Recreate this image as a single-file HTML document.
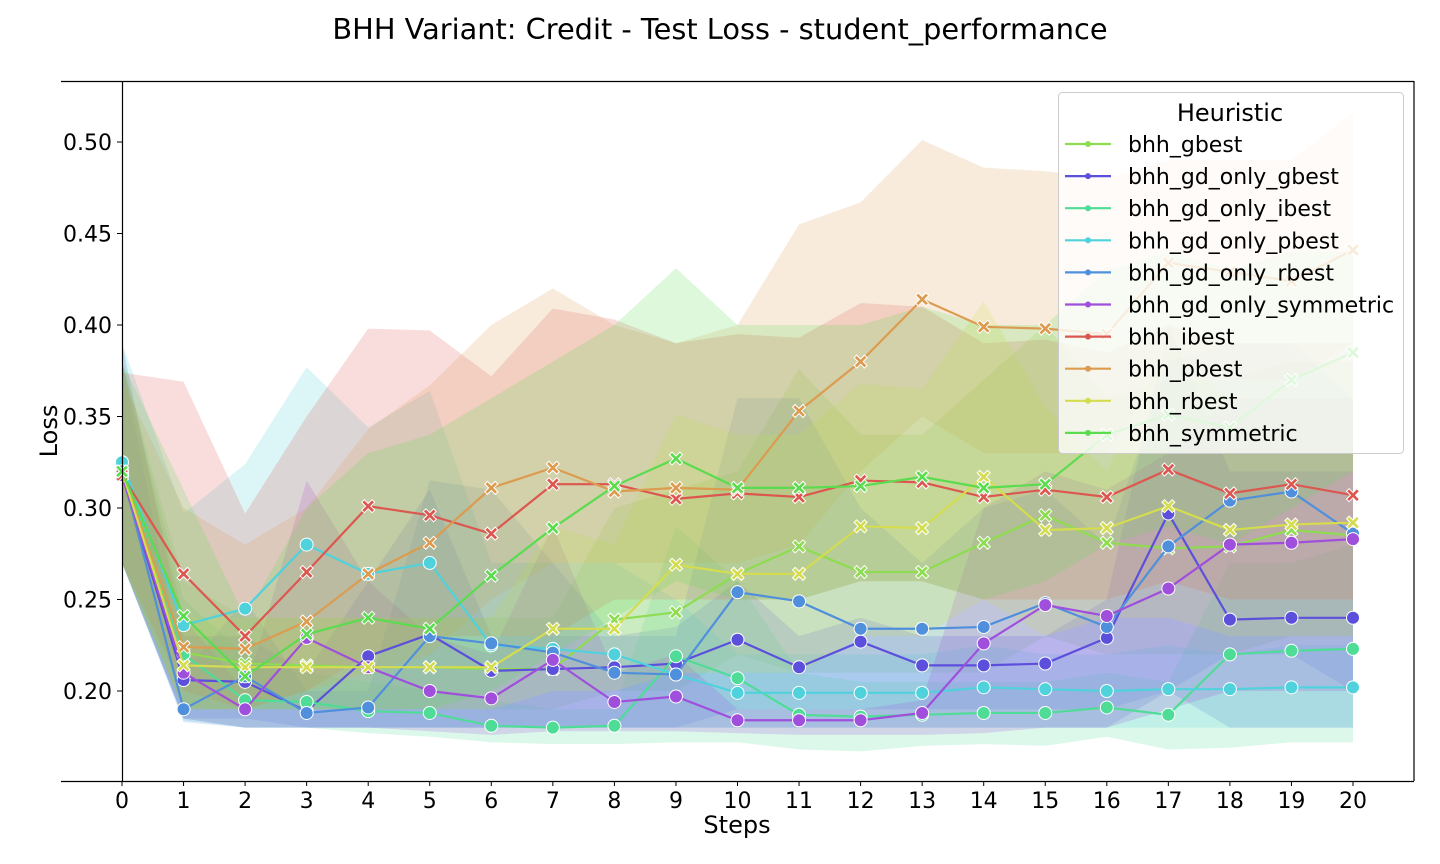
<!DOCTYPE html>
<html><head><meta charset="utf-8"><style>
html,body{margin:0;padding:0;background:#fff;}
svg{display:block;font-family:"DejaVu Sans","Liberation Sans",sans-serif;}
</style></head><body>
<svg id="chart" width="1440" height="864" viewBox="0 0 1440 864" xmlns="http://www.w3.org/2000/svg">
<text x="720" y="39" font-size="28.8" text-anchor="middle" fill="#000">BHH Variant: Credit - Test Loss - student_performance</text>
<g id="bands"></g>
<g id="lines"></g>
<g id="axes"></g>
<text x="737" y="833" font-size="24" text-anchor="middle">Steps</text>
<text transform="translate(57,431) rotate(-90)" font-size="24" text-anchor="middle">Loss</text>
<g id="legend"></g>
</svg>
<script>
const steps = [0,1,2,3,4,5,6,7,8,9,10,11,12,13,14,15,16,17,18,19,20];
const seriesNames = ["bhh_gbest","bhh_gd_only_gbest","bhh_gd_only_ibest","bhh_gd_only_pbest","bhh_gd_only_rbest","bhh_gd_only_symmetric","bhh_ibest","bhh_pbest","bhh_rbest","bhh_symmetric"];
const seriesColors = ["#8edc4f","#5b4fdc","#4fdc97","#4fd2dc","#4f8fdc","#9f4fdc","#dc574f","#dc9b4f","#d4dc4f","#5bdc4f"];
const yTicks = [0.20,0.25,0.30,0.35,0.40,0.45,0.50];

const meanGbest = [0.320,0.221,0.215,0.214,0.213,0.213,0.212,0.212,0.239,0.243,0.264,0.279,0.265,0.265,0.281,0.296,0.281,0.278,0.279,0.288,0.285];
const meanGdGbest = [0.318,0.206,0.205,0.189,0.219,0.231,0.211,0.212,0.213,0.215,0.228,0.213,0.227,0.214,0.214,0.215,0.229,0.297,0.239,0.240,0.240];
const meanGdIbest = [0.325,0.220,0.195,0.194,0.189,0.188,0.181,0.180,0.181,0.219,0.207,0.187,0.186,0.187,0.188,0.188,0.191,0.187,0.220,0.222,0.223];
const meanGdPbest = [0.325,0.236,0.245,0.280,0.264,0.270,0.225,0.223,0.220,0.209,0.199,0.199,0.199,0.199,0.202,0.201,0.200,0.201,0.201,0.202,0.202];
const meanGdRbest = [0.320,0.190,0.208,0.188,0.191,0.230,0.226,0.221,0.210,0.209,0.254,0.249,0.234,0.234,0.235,0.248,0.235,0.279,0.304,0.309,0.286];
const meanGdSym = [0.318,0.210,0.190,0.229,0.213,0.200,0.196,0.217,0.194,0.197,0.184,0.184,0.184,0.188,0.226,0.247,0.241,0.256,0.280,0.281,0.283];
const meanIbest = [0.318,0.264,0.230,0.265,0.301,0.296,0.286,0.313,0.313,0.305,0.308,0.306,0.315,0.314,0.306,0.310,0.306,0.321,0.308,0.313,0.307];
const meanPbest = [0.320,0.224,0.223,0.238,0.264,0.281,0.311,0.322,0.309,0.311,0.310,0.353,0.380,0.414,0.399,0.398,0.395,0.434,0.429,0.424,0.441];
const meanRbest = [0.320,0.214,0.213,0.213,0.213,0.213,0.213,0.234,0.234,0.269,0.264,0.264,0.290,0.289,0.317,0.288,0.289,0.301,0.288,0.291,0.292];
const meanSym = [0.320,0.241,0.208,0.231,0.240,0.234,0.263,0.289,0.312,0.327,0.311,0.311,0.312,0.317,0.311,0.313,0.340,0.351,0.344,0.370,0.385];

const upGbest = [0.38,0.26,0.24,0.24,0.24,0.24,0.24,0.24,0.30,0.31,0.32,0.376,0.34,0.34,0.37,0.40,0.36,0.37,0.37,0.38,0.38];
const loGbest = [0.27,0.19,0.19,0.19,0.19,0.19,0.19,0.19,0.20,0.20,0.22,0.21,0.21,0.21,0.21,0.23,0.22,0.22,0.22,0.23,0.23];
const upGdGbest = [0.39,0.23,0.23,0.21,0.26,0.31,0.23,0.23,0.23,0.235,0.26,0.23,0.24,0.23,0.23,0.23,0.25,0.40,0.32,0.32,0.32];
const loGdGbest = [0.27,0.185,0.185,0.18,0.18,0.18,0.18,0.18,0.18,0.18,0.18,0.18,0.18,0.18,0.18,0.18,0.18,0.20,0.18,0.18,0.18];
const upGdIbest = [0.38,0.25,0.22,0.21,0.205,0.20,0.195,0.19,0.19,0.29,0.26,0.21,0.205,0.205,0.205,0.205,0.21,0.205,0.27,0.27,0.28];
const loGdIbest = [0.27,0.185,0.18,0.18,0.177,0.175,0.172,0.171,0.171,0.172,0.172,0.168,0.167,0.17,0.171,0.17,0.175,0.168,0.169,0.172,0.172];
const upGdPbest = [0.39,0.297,0.324,0.377,0.344,0.364,0.27,0.27,0.27,0.25,0.22,0.22,0.22,0.22,0.225,0.22,0.22,0.225,0.22,0.225,0.225];
const loGdPbest = [0.27,0.184,0.18,0.18,0.18,0.18,0.18,0.18,0.18,0.18,0.18,0.18,0.18,0.18,0.18,0.18,0.18,0.18,0.18,0.18,0.18];
const upGdRbest = [0.38,0.21,0.25,0.20,0.20,0.315,0.31,0.27,0.23,0.23,0.36,0.36,0.30,0.27,0.30,0.31,0.28,0.38,0.39,0.39,0.36];
const loGdRbest = [0.27,0.183,0.18,0.18,0.18,0.18,0.18,0.18,0.18,0.18,0.19,0.19,0.19,0.19,0.19,0.19,0.19,0.20,0.22,0.22,0.20];
const upGdSym = [0.38,0.24,0.20,0.315,0.26,0.23,0.22,0.29,0.21,0.22,0.19,0.19,0.19,0.195,0.30,0.32,0.31,0.33,0.36,0.36,0.36];
const loGdSym = [0.27,0.185,0.18,0.18,0.18,0.178,0.176,0.178,0.178,0.178,0.177,0.176,0.176,0.176,0.177,0.18,0.18,0.19,0.20,0.20,0.20];
const upIbest = [0.374,0.369,0.297,0.35,0.398,0.397,0.372,0.409,0.403,0.39,0.395,0.393,0.412,0.41,0.39,0.392,0.385,0.40,0.39,0.39,0.39];
const loIbest = [0.27,0.20,0.19,0.20,0.22,0.23,0.23,0.23,0.25,0.25,0.25,0.25,0.26,0.26,0.25,0.25,0.25,0.26,0.25,0.25,0.25];
const upPbest = [0.37,0.30,0.28,0.30,0.343,0.367,0.40,0.42,0.40,0.39,0.40,0.455,0.467,0.501,0.486,0.484,0.48,0.49,0.49,0.49,0.516];
const loPbest = [0.27,0.19,0.19,0.20,0.21,0.22,0.25,0.27,0.27,0.27,0.27,0.28,0.32,0.35,0.33,0.33,0.33,0.38,0.37,0.37,0.39];
const upRbest = [0.38,0.24,0.24,0.24,0.24,0.24,0.24,0.29,0.28,0.351,0.34,0.34,0.368,0.365,0.413,0.355,0.32,0.39,0.36,0.36,0.36];
const loRbest = [0.27,0.19,0.19,0.19,0.19,0.19,0.19,0.20,0.20,0.21,0.21,0.21,0.23,0.23,0.25,0.23,0.24,0.24,0.23,0.23,0.23];
const upSym = [0.38,0.31,0.24,0.30,0.33,0.34,0.36,0.38,0.40,0.431,0.40,0.40,0.40,0.41,0.40,0.40,0.43,0.44,0.43,0.44,0.44];
const loSym = [0.27,0.19,0.19,0.19,0.19,0.19,0.20,0.22,0.24,0.26,0.25,0.25,0.26,0.26,0.25,0.26,0.28,0.29,0.28,0.30,0.32];

const means = [meanGbest,meanGdGbest,meanGdIbest,meanGdPbest,meanGdRbest,meanGdSym,meanIbest,meanPbest,meanRbest,meanSym];
const uppers = [upGbest,upGdGbest,upGdIbest,upGdPbest,upGdRbest,upGdSym,upIbest,upPbest,upRbest,upSym];
const lowers = [loGbest,loGdGbest,loGdIbest,loGdPbest,loGdRbest,loGdSym,loIbest,loPbest,loRbest,loSym];

const NS = "http://www.w3.org/2000/svg";
const X0 = 122, XS = (1353-122)/20;
const xPos = s => X0 + s*XS;
const yPos = v => 691 - (v-0.2)*1830;
function mk(tag, attrs, parent){const e=document.createElementNS(NS,tag);for(const k in attrs)e.setAttribute(k,attrs[k]);parent.appendChild(e);return e;}
const bands=document.getElementById('bands'), lines=document.getElementById('lines'), axes=document.getElementById('axes'), legend=document.getElementById('legend');

seriesNames.forEach((nm,i)=>{
  const pts = steps.map((s,j)=>xPos(s)+','+yPos(uppers[i][j])).concat(steps.slice().reverse().map((s,k)=>{const j=steps.length-1-k;return xPos(s)+','+yPos(lowers[i][j]);}));
  const p = mk('polygon',{points:pts.join(' '),fill:seriesColors[i],'fill-opacity':0.2,stroke:'none'},bands);
  
  
});
seriesNames.forEach((nm,i)=>{
  const g = mk('g',{},lines);
  
  
  const pl = mk('polyline',{points:steps.map((s,j)=>xPos(s)+','+yPos(means[i][j])).join(' '),fill:'none',stroke:seriesColors[i],'stroke-width':2.2},g);
  
  
  const circ = nm.indexOf('gd_only')>=0;
  steps.forEach((s,j)=>{
    const x=xPos(s), y=yPos(means[i][j]);
    let m;
    if(circ){ m = mk('circle',{cx:x,cy:y,r:6.5,fill:seriesColors[i],stroke:'#fff','stroke-width':1},g); }
    else { const d=6.5, w=2.6; m = mk('path',{d:`M${x-d},${y-d+w}L${x-d+w},${y-d}L${x},${y-w}L${x+d-w},${y-d}L${x+d},${y-d+w}L${x+w},${y}L${x+d},${y+d-w}L${x+d-w},${y+d}L${x},${y+w}L${x-d+w},${y+d}L${x-d},${y+d-w}L${x-w},${y}Z`,fill:seriesColors[i],stroke:'#fff','stroke-width':1},g); }
    
    
  });
});
// axes
mk('line',{x1:61,y1:81.5,x2:1414,y2:81.5,stroke:'#000','stroke-width':1.2},axes);
mk('line',{x1:61,y1:781.5,x2:1414,y2:781.5,stroke:'#000','stroke-width':1.2},axes);
mk('line',{x1:122.5,y1:81,x2:122.5,y2:781,stroke:'#000','stroke-width':1.2},axes);
mk('line',{x1:1414,y1:81,x2:1414,y2:781,stroke:'#000','stroke-width':1.2},axes);
yTicks.forEach(v=>{
  const y=yPos(v);
  mk('line',{x1:117,y1:y,x2:122,y2:y,stroke:'#000','stroke-width':1},axes);
  const t=mk('text',{x:112,y:y+8,'font-size':22,'text-anchor':'end'},axes);
  t.textContent=v.toFixed(2);
  
  
});
steps.forEach(s=>{
  const x=xPos(s);
  mk('line',{x1:x,y1:781,x2:x,y2:786,stroke:'#000','stroke-width':1},axes);
  const t=mk('text',{x:x,y:808,'font-size':22,'text-anchor':'middle'},axes);
  t.textContent=String(s);
  
  
});
// legend
mk('rect',{x:1058.5,y:92.5,width:345,height:361,rx:4,fill:'#fff','fill-opacity':0.8,stroke:'#ccc','stroke-width':1},legend);
const lt=mk('text',{x:1230,y:121,'font-size':24,'text-anchor':'middle'},legend);
lt.textContent='Heuristic';


seriesNames.forEach((nm,i)=>{
  const y=144+i*32.1;
  const g=mk('g',{},legend);
  
  
  mk('line',{x1:1065,y1:y,x2:1111,y2:y,stroke:seriesColors[i],'stroke-width':2.2},g);
  mk('circle',{cx:1088,cy:y,r:3,fill:seriesColors[i]},g);
  const t=mk('text',{x:1128,y:y+8,'font-size':22},g);
  t.textContent=nm;
});
</script>
</body></html>
